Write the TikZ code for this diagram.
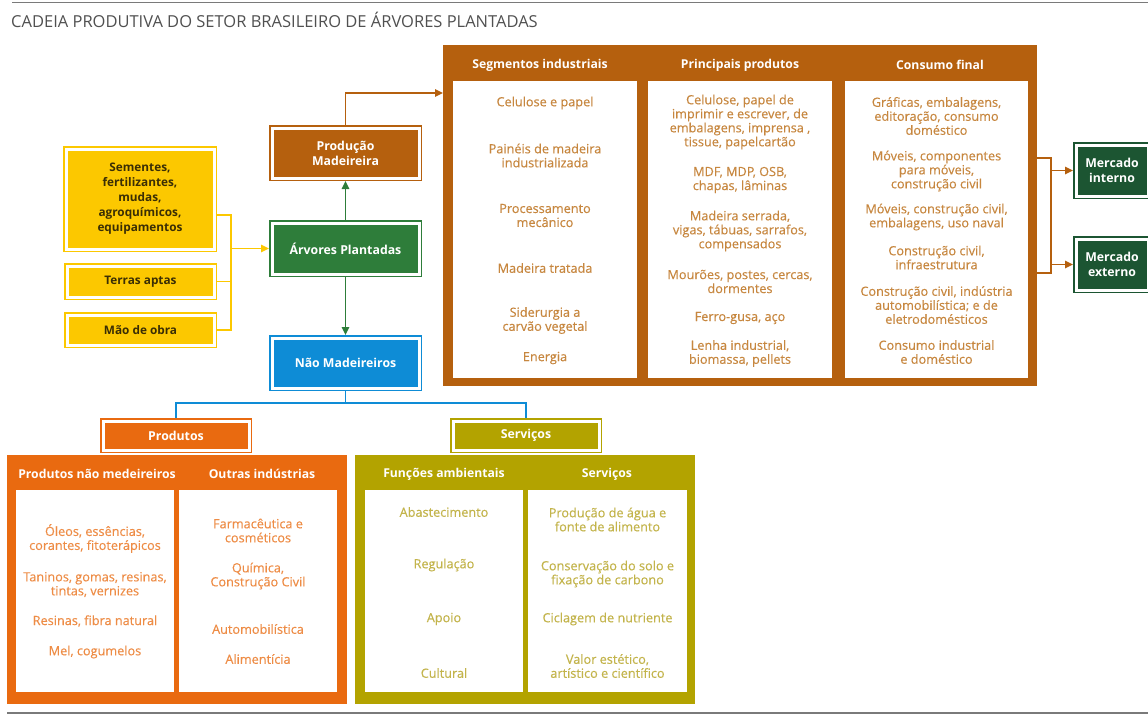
\documentclass[tikz,border=0pt]{standalone}
\usepackage{fontspec}
\setmainfont{Open Sans}
\newfontfamily\medfont{Open Sans}[FakeBold=0.3]
\usetikzlibrary{arrows.meta}
\definecolor{ylw}{HTML}{FCC800}
\definecolor{ytx}{HTML}{3A2E05}
\definecolor{brn}{HTML}{B5600E}
\definecolor{btx}{HTML}{C7873F}
\definecolor{grn}{HTML}{2E7D3A}
\definecolor{dgrn}{HTML}{1C5532}
\definecolor{blu}{HTML}{0E8CD6}
\definecolor{org}{HTML}{E96A10}
\definecolor{otx}{HTML}{EE8C45}
\definecolor{olv}{HTML}{B3A300}
\definecolor{vtx}{HTML}{C3B44B}
\definecolor{rule}{HTML}{7A7A7A}
\definecolor{ttl}{HTML}{505050}
\begin{document}
\begin{tikzpicture}[x=1pt,y=-1pt,
  dbox/.style={draw=#1, fill=#1, double=white, double distance=3pt, line width=1.5pt,
    inner sep=0pt, outer sep=3pt, align=center, text=white,
    font=\bfseries\fontsize{12.3}{15}\selectfont},
  ybox/.style={dbox=ylw, text=ytx, font=\bfseries\fontsize{11.8}{15}\selectfont},
  panel/.style={fill=#1, draw=none, inner sep=0pt, anchor=north west},
  colbox/.style={fill=white, draw=none, inner sep=0pt, anchor=north west},
  hdr/.style={text=white, inner sep=0pt, font=\bfseries\fontsize{12.2}{14}\selectfont},
  ct/.style={text=#1, align=center, inner sep=0pt, font=\medfont\fontsize{12.7}{14}\selectfont},
  conn/.style={draw=#1, line width=1.6pt},
  arr/.style={draw=#1, line width=1.6pt, -{Triangle[length=8pt,width=7.5pt]}},
]
\useasboundingbox (0,0) rectangle (1148,716);
% rules and title
\coordinate (rt1) at (12,2.5); \coordinate (rt2) at (1148,2.5);
\coordinate (rb1) at (7,713); \coordinate (rb2) at (1148,713);
\draw[rule, line width=1.4pt] (rt1) -- (rt2);
\draw[rule, line width=1.4pt] (rb1) -- (rb2);
\node[anchor=west, inner sep=0pt, text=ttl, font=\fontsize{16.5}{18}\selectfont] (title) at (11,20) {CADEIA PRODUTIVA DO SETOR BRASILEIRO DE ÁRVORES PLANTADAS};

% left inputs
\node[ybox, minimum width=148pt, minimum height=100pt] (sem) at (140,199) {Sementes,\\fertilizantes,\\mudas,\\agroquímicos,\\equipamentos};
\node[ybox, minimum width=147pt, minimum height=31pt] (ter) at (140.5,281.5) {Terras aptas};
\node[ybox, minimum width=147pt, minimum height=30pt] (mao) at (140.5,330) {Mão de obra};

% central boxes
\node[dbox=brn, minimum width=147pt, minimum height=50pt] (prod) at (345.5,153) {Produção\\Madeireira};
\node[dbox=grn, minimum width=147pt, minimum height=51pt] (arv) at (345.5,248.5) {Árvores Plantadas};
\node[dbox=blu, minimum width=147pt, minimum height=50pt] (nao) at (345.5,363) {Não Madeireiros};

% left connectors
\coordinate (lx) at (231,0);
\draw[conn=ylw] ([yshift=-16pt]sem.east) -| (lx |- mao.east) -- (mao.east);
\draw[conn=ylw] (ter.east) -- (lx |- ter.east);
\draw[arr=ylw] (lx |- arv.west) -- (arv.west);
\draw[arr=grn] (arv.north) -- (prod.south);
\draw[arr=grn] (arv.south) -- (nao.south |- nao.north);

% brown panel
\node[panel=brn, minimum width=594pt, minimum height=341pt] (bp) at (443,45) {};
\node[colbox, minimum width=184pt, minimum height=297pt] (bc1) at (453,81) {};
\node[colbox, minimum width=184pt, minimum height=297pt] (bc2) at (648,81) {};
\node[colbox, minimum width=183pt, minimum height=297pt] (bc3) at (845,81) {};
\node[hdr] (bh1) at (540,65) {Segmentos industriais};
\node[hdr] (bh2) at (740,65) {Principais produtos};
\node[hdr] (bh3) at (940,65) {Consumo final};

\coordinate (bpin) at (443,93);
\draw[arr=brn] (prod.north) |- (bpin);

\node[ct=btx] (s1) at (545,103) {Celulose e papel};
\node[ct=btx] (s2) at (545,155.5) {Painéis de madeira\\industrializada};
\node[ct=btx] (s3) at (545,215.5) {Processamento\\mecânico};
\node[ct=btx] (s4) at (545,268) {Madeira tratada};
\node[ct=btx] (s5) at (545,320.5) {Siderurgia a\\carvão vegetal};
\node[ct=btx] (s6) at (545,358) {Energia};

\node[ct=btx] (p1) at (740,122) {Celulose, papel de\\imprimir e escrever, de\\embalagens, imprensa ,\\tissue, papelcartão};
\node[ct=btx] (p2) at (740,180) {MDF, MDP, OSB,\\chapas, lâminas};
\node[ct=btx] (p3) at (740,231) {Madeira serrada,\\vigas, tábuas, sarrafos,\\compensados};
\node[ct=btx] (p4) at (740,281.5) {Mourões, postes, cercas,\\dormentes};
\node[ct=btx] (p5) at (740,318) {Ferro-gusa, aço};
\node[ct=btx] (p6) at (740,353.5) {Lenha industrial,\\biomassa, pellets};

\node[ct=btx] (c1) at (936.5,116) {Gráficas, embalagens,\\editoração, consumo\\doméstico};
\node[ct=btx] (c2) at (936.5,171) {Móveis, componentes\\para móveis,\\construção civil};
\node[ct=btx] (c3) at (936.5,217) {Móveis, construção civil,\\embalagens, uso naval};
\node[ct=btx] (c4) at (936.5,257.5) {Construção civil,\\infraestrutura};
\node[ct=btx] (c5) at (936.5,305) {Construção civil, indústria\\automobilística; e de\\eletrodomésticos};
\node[ct=btx] (c6) at (936.5,352) {Consumo industrial\\e doméstico};

% markets
\node[dbox=dgrn, minimum width=72pt, minimum height=51pt] (mi) at (1112,170.5) {Mercado\\interno};
\node[dbox=dgrn, minimum width=72pt, minimum height=51pt] (me) at (1112,264.5) {Mercado\\externo};
\coordinate (ra) at (1037,158);
\coordinate (rb) at (1037,273);
\coordinate (jx) at (1051,0);
\draw[conn=brn] (ra) -| (jx |- rb) -- (rb);
\draw[arr=brn] (jx |- mi.west) -- (mi.west);
\draw[arr=brn] (jx |- me.west) -- (me.west);

% bottom: produtos / serviços
\node[dbox=org, minimum width=146pt, minimum height=29pt] (prs) at (176,435.5) {Produtos};
\node[dbox=olv, minimum width=146pt, minimum height=29pt] (svs) at (526,435.5) {Serviços};
\coordinate (by) at (0,403);
\draw[conn=blu] (nao.south) -- (nao.south |- by);
\draw[conn=blu] (prs.north) |- (by -| svs.north) -- (svs.north);

% orange panel
\node[panel=org, minimum width=340pt, minimum height=249pt] (op) at (7,455) {};
\node[colbox, minimum width=158pt, minimum height=202pt] (oc1) at (16,490) {};
\node[colbox, minimum width=158pt, minimum height=202pt] (oc2) at (179,490) {};
\node[hdr] (oh1) at (97,474) {Produtos não medeireiros};
\node[hdr] (oh2) at (262,474) {Outras indústrias};
\node[ct=otx] (o1) at (95,538.5) {Óleos, essências,\\corantes, fitoterápicos};
\node[ct=otx] (o2) at (95,584.5) {Taninos, gomas, resinas,\\tintas, vernizes};
\node[ct=otx] (o3) at (95,621) {Resinas, fibra natural};
\node[ct=otx] (o4) at (95,652) {Mel, cogumelos};
\node[ct=otx] (i1) at (258,530.5) {Farmacêutica e\\cosméticos};
\node[ct=otx] (i2) at (258,576) {Química,\\Construção Civil};
\node[ct=otx] (i3) at (258,629) {Automobilística};
\node[ct=otx] (i4) at (258,659) {Alimentícia};

% olive panel
\node[panel=olv, minimum width=340pt, minimum height=249pt] (vp) at (355,455) {};
\node[colbox, minimum width=158pt, minimum height=202pt] (vc1) at (365,490) {};
\node[colbox, minimum width=159pt, minimum height=202pt] (vc2) at (528,490) {};
\node[hdr] (vh1) at (444,474) {Funções ambientais};
\node[hdr] (vh2) at (607,474) {Serviços};
\node[ct=vtx] (f1) at (444,512) {Abastecimento};
\node[ct=vtx] (f2) at (444,565) {Regulação};
\node[ct=vtx] (f3) at (444,619) {Apoio};
\node[ct=vtx] (f4) at (444,673) {Cultural};
\node[ct=vtx] (v1) at (607.5,519.5) {Produção de água e\\fonte de alimento};
\node[ct=vtx] (v2) at (607.5,574) {Conservação do solo e\\fixação de carbono};
\node[ct=vtx] (v3) at (607.5,619) {Ciclagem de nutriente};
\node[ct=vtx] (v4) at (607.5,666) {Valor estético,\\artístico e científico};
\end{tikzpicture}
\end{document}
